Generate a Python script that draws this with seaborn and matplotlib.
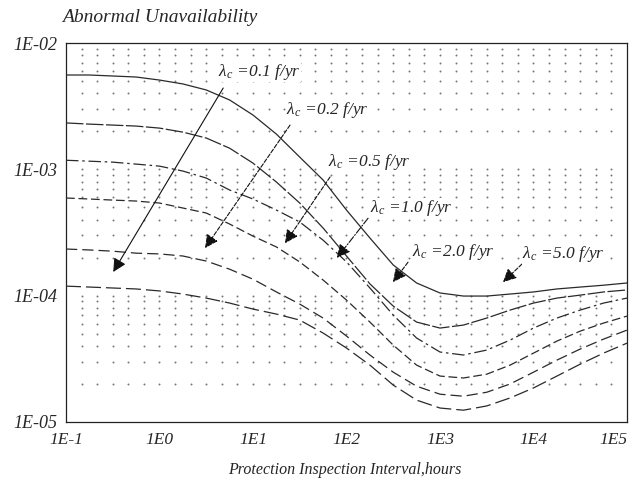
import numpy as np
import pandas as pd
import matplotlib
matplotlib.use('Agg')
import matplotlib.pyplot as plt
from matplotlib.ticker import NullLocator
import seaborn as sns

# Protection inspection interval, hours (quarter-decade steps)
interval = [0.1, 0.178, 0.316, 0.562, 1, 1.78, 3.16, 5.62, 10, 17.8, 31.6, 56.2,
            100, 178, 316, 562, 1000, 1780, 3160, 5620, 10000, 17800, 31600, 56200, 100000]

# Abnormal unavailability, one curve per component failure rate (top to bottom)
curve_1 = [5.58e-3, 5.58e-3, 5.48e-3, 5.38e-3, 5.09e-3, 4.74e-3, 4.25e-3, 3.54e-3, 2.69e-3,
           1.90e-3, 1.25e-3, 8.23e-4, 4.76e-4, 2.86e-4, 1.75e-4, 1.26e-4, 1.05e-4, 9.93e-5,
           9.93e-5, 1.03e-4, 1.07e-4, 1.13e-4, 1.17e-4, 1.21e-4, 1.26e-4]
curve_2 = [2.33e-3, 2.28e-3, 2.24e-3, 2.20e-3, 2.12e-3, 1.97e-3, 1.77e-3, 1.47e-3, 1.12e-3,
           7.93e-4, 5.41e-4, 3.43e-4, 2.06e-4, 1.24e-4, 8.27e-5, 6.18e-5, 5.54e-5, 5.85e-5,
           6.65e-5, 7.69e-5, 8.74e-5, 9.57e-5, 1.01e-4, 1.07e-4, 1.11e-4]
curve_3 = [1.18e-3, 1.16e-3, 1.14e-3, 1.10e-3, 1.06e-3, 9.69e-4, 8.53e-4, 6.86e-4, 5.82e-4,
           4.76e-4, 3.83e-4, 2.75e-4, 1.85e-4, 1.15e-4, 7.02e-5, 4.62e-5, 3.58e-5, 3.39e-5,
           3.71e-5, 4.45e-5, 5.54e-5, 6.65e-5, 7.69e-5, 8.74e-5, 9.57e-5]
curve_4 = [5.93e-4, 5.82e-4, 5.71e-4, 5.61e-4, 5.41e-4, 4.94e-4, 4.51e-4, 3.69e-4, 2.96e-4,
           2.43e-4, 1.85e-4, 1.33e-4, 9.23e-5, 6.18e-5, 4.06e-5, 2.82e-5, 2.31e-5, 2.23e-5,
           2.39e-5, 2.82e-5, 3.51e-5, 4.37e-5, 5.24e-5, 6.07e-5, 6.89e-5]
curve_5 = [2.34e-4, 2.30e-4, 2.25e-4, 2.17e-4, 2.14e-4, 2.06e-4, 1.88e-4, 1.62e-4, 1.35e-4,
           1.07e-4, 8.58e-5, 6.65e-5, 4.79e-5, 3.39e-5, 2.48e-5, 1.92e-5, 1.66e-5, 1.60e-5,
           1.72e-5, 2.00e-5, 2.48e-5, 3.09e-5, 3.78e-5, 4.53e-5, 5.34e-5]
curve_6 = [1.19e-4, 1.17e-4, 1.15e-4, 1.13e-4, 1.09e-4, 1.03e-4, 9.57e-5, 8.74e-5, 7.83e-5,
           7.15e-5, 6.41e-5, 5.06e-5, 3.85e-5, 2.82e-5, 1.96e-5, 1.49e-5, 1.29e-5, 1.24e-5,
           1.34e-5, 1.55e-5, 1.86e-5, 2.31e-5, 2.87e-5, 3.51e-5, 4.21e-5]

failure_rates = ['0.1', '0.2', '0.5', '1.0', '2.0', '5.0']
x_ticks = [0.1, 1, 10, 100, 1000, 10000, 100000]
x_tick_labels = ['1E-1', '1E0', '1E1', '1E2', '1E3', '1E4', '1E5']
y_ticks = [1e-5, 1e-4, 1e-3, 1e-2]
y_tick_labels = ['1E-05', '1E-04', '1E-03', '1E-02']

curves = [curve_1, curve_2, curve_3, curve_4, curve_5, curve_6]
df = pd.concat([pd.DataFrame({'interval': interval, 'unavail': c, 'rate': r})
                for c, r in zip(curves, failure_rates)], ignore_index=True)

sns.set_style('white')
plt.rcParams['font.family'] = ['Liberation Serif', 'DejaVu Serif']
plt.rcParams['font.style'] = 'italic'
plt.rcParams['mathtext.fontset'] = 'stix'

fig = plt.figure(figsize=(6.35, 4.84), dpi=100)
ax = fig.add_axes([66/635, 62/484, 561/635, 379/484])
ax.set_xscale('log')
ax.set_yscale('log')

# dot-matrix grid
gx = 10 ** np.arange(-1 + 1/6, 5 - 1e-6, 1/6)
gy = [m * 10.0 ** e for e in (-5, -4, -3) for m in range(1, 10) if not (e == -5 and m == 1)]
GX, GY = np.meshgrid(gx, gy)
ax.scatter(GX.ravel(), GY.ravel(), s=2, color='#777777', linewidths=0, zorder=1)

sns.lineplot(data=df, x='interval', y='unavail', style='rate', color='#2a2a2a',
             dashes=['', (14, 2), (10, 3, 2, 3), (7, 3), (9, 4), (12, 4)],
             lw=0.9, legend=False, ax=ax, zorder=3)

ax.set_xlim(0.1, 1e5)
ax.set_ylim(1e-5, 1e-2)
ax.set_xticks(x_ticks, x_tick_labels)
ax.set_yticks(y_ticks, y_tick_labels)
ax.xaxis.set_minor_locator(NullLocator())
ax.yaxis.set_minor_locator(NullLocator())
ax.tick_params(axis='x', length=0, pad=7, labelsize=12.5)
ax.tick_params(axis='y', length=0, pad=6, labelsize=13)
ax.get_xticklabels()[-1].set_horizontalalignment('right')
ax.set_xlabel('')
ax.set_ylabel('')
for s in ax.spines.values():
    s.set_color('#222222')
    s.set_linewidth(0.9)

# labels with arrows: (text pos), (arrow start), (arrow tip), line style
notes = [
    ('0.1', (4.2, 5.9e-3), (4.8, 4.4e-3), (0.32, 1.54e-4), '-'),
    ('0.2', (22.5, 2.95e-3), (24.9, 2.24e-3), (3.07, 2.38e-4), '--'),
    ('0.5', (63.4, 1.14e-3), (66.7, 8.7e-4), (22.0, 2.6e-4), '--'),
    ('1.0', (178, 4.94e-4), (170, 4.1e-4), (79, 1.99e-4), '-.'),
    ('2.0', (501, 2.21e-4), (455, 1.84e-4), (314, 1.28e-4), '--'),
    ('5.0', (7530, 2.13e-4), (7530, 1.78e-4), (4720, 1.28e-4), '--'),
]
for rate, txt, start, tip, ls in notes:
    ax.text(txt[0], txt[1],
            r'$\mathregular{\lambda}_{\mathregular{c}}$' + ' =' + rate + ' f/yr',
            fontsize=12.5, ha='left', va='center', zorder=5,
            bbox=dict(facecolor='white', edgecolor='none', pad=0.3))
    ax.annotate('', xy=tip, xytext=start,
                arrowprops=dict(arrowstyle='-|>', color='#111111', lw=0.8,
                                linestyle=ls, mutation_scale=20, shrinkA=0, shrinkB=0),
                zorder=4)

fig.text(62/635, 1 - 17/484, 'Abnormal Unavailability', fontsize=14, ha='left', va='center')
fig.text(345/635, 1 - 470/484, 'Protection Inspection Interval,hours', fontsize=11.5,
         ha='center', va='center')

fig.savefig('out.png', dpi=100)
